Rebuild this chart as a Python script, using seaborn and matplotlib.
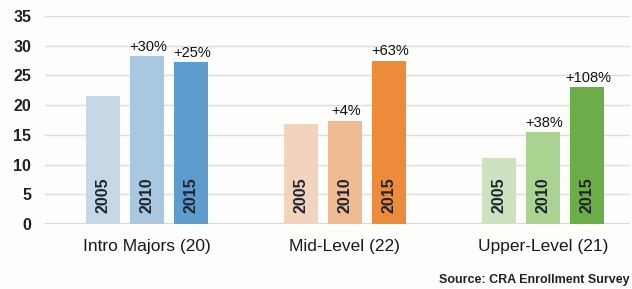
import matplotlib
matplotlib.use("Agg")
import matplotlib.pyplot as plt
import seaborn as sns
import pandas as pd

groups = ["Intro Majors (20)", "Mid-Level (22)", "Upper-Level (21)"]
years = ["2005", "2010", "2015"]
intro_values = [21.5, 28.2, 27.2]
mid_values = [16.8, 17.4, 27.4]
upper_values = [11.1, 15.4, 23.0]
intro_pct = ["", "+30%", "+25%"]
mid_pct = ["", "+4%", "+63%"]
upper_pct = ["", "+38%", "+108%"]
yticks = [0, 5, 10, 15, 20, 25, 30, 35]
source = "Source: CRA Enrollment Survey"

values = [intro_values, mid_values, upper_values]
pcts = [intro_pct, mid_pct, upper_pct]
colors = [
    ["#c6d8e6", "#aac7e2", "#5e9cce"],
    ["#f2d4be", "#f0bb92", "#ed8b3a"],
    ["#cfe2c0", "#aad291", "#6cad49"],
]

rows = []
for g, vals in zip(groups, values):
    for y, v in zip(years, vals):
        rows.append({"group": g, "year": y, "value": v})
df = pd.DataFrame(rows)

sns.set_theme(style="white")
plt.rcParams["font.family"] = ["Liberation Sans", "DejaVu Sans"]

fig = plt.figure(figsize=(6.32, 2.89), dpi=100)
fig.patch.set_facecolor("#fdfdfb")
ax = fig.add_axes([45 / 632, 1 - 224 / 289, 585 / 632, 208 / 289])
ax.set_facecolor("#fdfdfb")

sns.barplot(data=df, x="group", y="value", hue="year", order=groups,
            hue_order=years, width=0.667, gap=0.225, dodge=True,
            legend=False, ax=ax, errorbar=None, linewidth=0)

for hi, cont in enumerate(ax.containers):
    for gi, bar in enumerate(cont):
        bar.set_facecolor(colors[gi][hi])
        bar.set_edgecolor("none")
        cx = bar.get_x() + bar.get_width() / 2
        h = bar.get_height()
        ax.annotate(years[hi], (cx, 0), xytext=(0, 8), textcoords="offset points",
                    rotation=90, ha="center", va="bottom", fontsize=11.5,
                    fontweight="bold", color="#1e2430")
        lab = pcts[gi][hi]
        if lab:
            ax.annotate(lab, (cx, h), xytext=(1, 2), textcoords="offset points",
                        ha="center", va="bottom", fontsize=10.5, color="#111111")

ax.set_ylim(0, 35)
ax.set_xlim(-0.515, 2.44)
ax.set_yticks(yticks)
ax.set_yticklabels([str(t) for t in yticks], fontsize=11.5, fontweight="bold", color="#222222")
ax.yaxis.grid(True, color="#dedede", linewidth=1)
ax.set_axisbelow(True)
ax.axhline(0, color="#d0d0d0", linewidth=1.2, zorder=0.5)
for s in ax.spines.values():
    s.set_visible(False)
ax.tick_params(axis="y", length=0, pad=10)
ax.tick_params(axis="x", length=0, pad=11)
for t in ax.get_xticklabels():
    t.set_fontsize(12.5)
    t.set_color("#1a1a1a")
ax.set_xlabel("")
ax.set_ylabel("")

fig.text(630 / 632, 1 - 280 / 289, source, ha="right", va="center",
         fontsize=9, fontweight="bold", color="#222222")

fig.savefig("out.png", dpi=100, facecolor=fig.get_facecolor())
